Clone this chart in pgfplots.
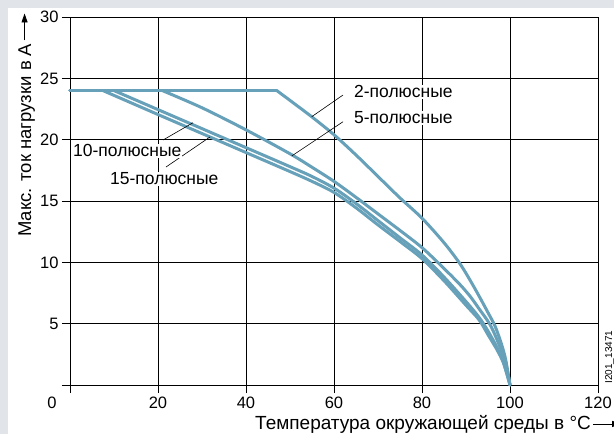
\documentclass[border=0pt]{standalone}
\usepackage{fontspec}
\setmainfont{Liberation Sans}
\usepackage{pgfplots}
\pgfplotsset{compat=1.18}
\usetikzlibrary{arrows.meta}
\definecolor{curve}{RGB}{102,160,185}
\definecolor{bg}{RGB}{225,229,233}
\newcommand{\fs}{\fontsize{17.5}{17.5}\selectfont}
\begin{document}
\begin{tikzpicture}[x=1pt,y=1pt]
\fill[white] (-70,-49) rectangle (544,385);
\fill[bg] (-70,-49) rectangle (-62,385);
\fill[bg] (-70,377) rectangle (544,385);
\useasboundingbox (-70,-49) rectangle (544,385);
\begin{axis}[
  at={(0,0)}, anchor=south west, scale only axis,
  width=528pt, height=368pt,
  xmin=0, xmax=120, ymin=0, ymax=30,
  xtick={0,20,...,120}, xticklabels={,20,40,60,80,100,120},
  ytick={0,5,...,30}, yticklabels={,5,10,15,20,25,30},
  grid=major, major grid style={black, line width=0.7pt},
  axis line style={black, line width=0.8pt},
  tick style={black, line width=0.8pt},
  major tick length=8pt, tick align=outside, tick pos=left,
  /pgf/number format/assume math mode=true,
  tick label style={font=\fontsize{16.5}{16.5}\selectfont},
  clip=false,
  crv/.style={curve, line width=3pt, line join=round, line cap=round},
]
% 2-polig
\addplot[crv] coordinates {(0,24) (47,24)};
\addplot[crv, smooth, tension=0.5] coordinates {(47,24) (50,23.2) (55,21.85) (60,20.4) (65,18.75) (70,17.0) (75,15.25) (80,13.6) (85,11.6) (88.6,9.9) (91,8.5) (93.2,7.1) (95,5.9) (96.6,4.8) (98,3.4) (99,2.1) (100,0)};
% 5-polig
\addplot[crv] coordinates {(0,24) (21,24)};
\addplot[crv, smooth, tension=0.5] coordinates {(21,24) (30,22.6) (40,20.8) (50,18.85) (55,17.75) (60,16.6) (65,15.3) (70,13.95) (75,12.6) (80,11.2) (85,9.5) (88.6,8.2) (91,7.2) (93,6.2) (95.5,4.9) (97.5,3.3) (99,1.8) (100,0)};
% 10-polig
\addplot[crv] coordinates {(0,24) (10,24)};
\addplot[crv, smooth, tension=0.5] coordinates {(10,24) (20,22.45) (30,20.9) (40,19.35) (50,17.8) (55,17.0) (60,16.05) (65,14.8) (70,13.4) (75,12.0) (80,10.6) (85,8.8) (90,6.8) (93,5.5) (95,4.4) (97,3.1) (98.5,1.9) (100,0)};
% 15-polig
\addplot[crv] coordinates {(0,24) (7.5,24)};
\addplot[crv, smooth, tension=0.5] coordinates {(7.5,24) (20,22.05) (30,20.5) (40,18.95) (50,17.4) (55,16.6) (60,15.7) (65,14.45) (70,13.05) (75,11.7) (80,10.3) (85,8.5) (90,6.5) (93,5.3) (95,4.1) (97,2.9) (98.5,1.8) (100,0)};
% leaders
\draw[black, line width=0.6pt] (axis cs:62.05,23.64) -- (axis cs:54.93,21.87);
\draw[black, line width=0.6pt] (axis cs:62.05,21.46) -- (axis cs:50.39,18.67);
\draw[black, line width=0.6pt] (axis cs:21.14,19.97) -- (axis cs:27.95,21.38);
\draw[black, line width=0.6pt] (axis cs:21.82,17.77) -- (axis cs:31.82,20.22);
\node[anchor=west, fill=white, inner sep=1pt, font=\fs] at (axis cs:64.3,23.89) {2-полюсные};
\node[anchor=west, fill=white, inner sep=1pt, font=\fs] at (axis cs:64.3,21.77) {5-полюсные};
\node[anchor=west, fill=white, inner sep=1pt, font=\fs] at (axis cs:0.45,19.08) {10-полюсные};
\node[anchor=west, fill=white, inner sep=1pt, font=\fs] at (axis cs:8.86,16.79) {15-полюсные};
\node[font=\fontsize{16.5}{16.5}\selectfont] at (axis cs:-4.1,-1.45) {0};
% axis labels
\node[anchor=base west, inner sep=0, font=\fontsize{19}{19}\selectfont] (xl) at (axis cs:42.05,-3.59) {Температура окружающей среды в °С};
\draw[line width=0.9pt, -{Triangle[length=9pt,width=6pt]}] ([xshift=2pt]xl.east) -- ++(28pt,0);
\node[rotate=90, anchor=base west, inner sep=0, font=\fontsize{18.5}{18.5}\selectfont] (yl) at (axis cs:-8.86,12.06) {Макс. ток нагрузки в А};
\draw[line width=0.9pt, -{Triangle[length=9pt,width=6pt]}] ([yshift=3pt,xshift=-2pt]yl.east) -- ++(0,27pt);
\node[rotate=90, anchor=base west, inner sep=0, font=\fontsize{10}{10}\selectfont] at (axis cs:123.2,0.1) {I201\_13471};
\end{axis}
\end{tikzpicture}
\end{document}
